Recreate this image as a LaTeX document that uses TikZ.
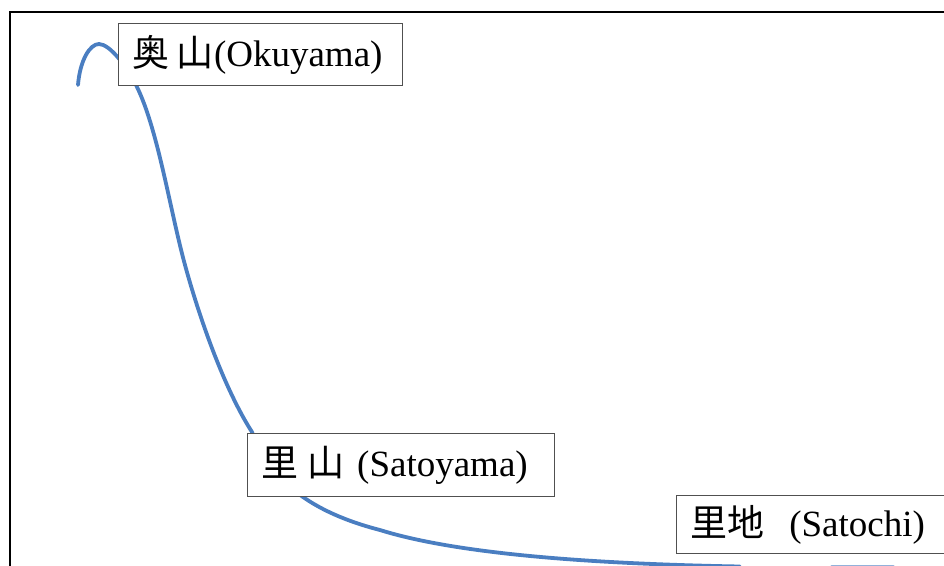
\documentclass[tikz,border=0pt]{standalone}
\usepackage{fontspec}
\setmainfont{Liberation Serif}
\newfontfamily\cjk{Noto Sans CJK JP}
\definecolor{curveblue}{RGB}{74,126,193}
\definecolor{boxgray}{RGB}{80,80,80}
\begin{document}
\begin{tikzpicture}[x=1pt,y=-1pt,
  labelbox/.style={draw=boxgray, line width=1.2pt, fill=white, anchor=north west,
    inner xsep=14pt, inner ysep=0pt, align=left,
    font=\fontsize{37}{40}\selectfont},
  frameline/.style={line width=2.5pt, black},
  curveline/.style={line width=3.8pt, curveblue, line cap=round}]
\useasboundingbox (0,0) rectangle (944,565);
\clip (0,0) rectangle (944,565);
% frame
\draw[frameline] (10,566) -- (10,12) -- (946,12);
% curve
\draw[curveline] (78,85) .. controls (80,60) and (90,44) .. (99,44)
  .. controls (110,44) and (128,68) .. (137,87)
  .. controls (158,130) and (170,210) .. (185,265)
  .. controls (200,320) and (225,390) .. (252,432)
  .. controls (270,480) and (310,512) .. (380,530)
  .. controls (460,555) and (600,564) .. (740,566.5);
\draw[curveline, curveblue!60] (832,567) -- (893,567);
% boxes
\node[labelbox, minimum width=284pt, minimum height=62pt, text width=256pt] (oku) at (118,23)
  {{\cjk 奥}\hspace{0.2em}{\cjk 山}(Okuyama)};
\node[labelbox, minimum width=307pt, minimum height=63pt, text width=279pt] (sato) at (247,433)
  {{\cjk 里}\hspace{0.25em}{\cjk 山} (Satoyama)};
\node[labelbox, minimum width=300pt, minimum height=58pt, text width=272pt] (chi) at (676,495)
  {{\cjk 里地}\ \ (Satochi)};
\end{tikzpicture}
\end{document}
